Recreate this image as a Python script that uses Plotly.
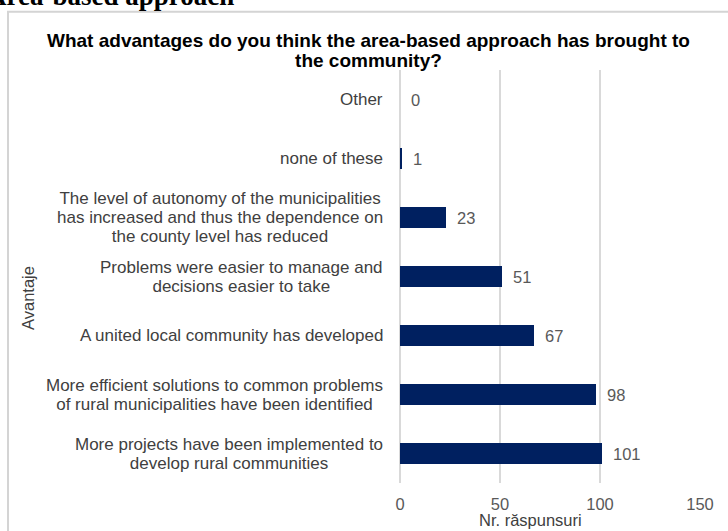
import plotly.graph_objects as go

# ---- data (top to bottom as shown) ----
categories = [
    "Other",
    "none of these",
    "The level of autonomy of the municipalities<br>has increased and thus the dependence on<br>the county level has reduced",
    "Problems were easier to manage and<br>decisions easier to take",
    "A united local community has developed",
    "More efficient solutions to common problems<br>of rural municipalities have been identified",
    "More projects have been implemented to<br>develop rural communities",
]
values = [0, 1, 23, 51, 67, 98, 101]
x_ticks = [0, 50, 100, 150]
title_text = "What advantages do you think the area-based approach has brought to<br>the community?"
header_text = "Area-based approach"
x_title = "Nr. răspunsuri"
y_title = "Avantaje"

# ---- layout geometry (pixels) ----
W, H = 728, 531
PL, PR = 400, 700          # plot area left/right px
PT, PB = 69.5, 483.5       # plot area top/bottom px


def px_x(px):
    return (px - PL) / (PR - PL)


def px_y(py):
    return (PB - py) / (PB - PT)


FONT = "Liberation Sans, Arial, sans-serif"

fig = go.Figure()
fig.add_trace(go.Bar(
    x=values,
    y=categories,
    orientation="h",
    width=0.36,
    marker=dict(color="#002060", line=dict(width=0)),
    hoverinfo="x+y",
))

annotations = []
# category labels (centered lines, right-aligned block)
for cat in categories:
    annotations.append(dict(
        x=px_x(385), xref="paper", y=cat, yref="y",
        xanchor="right", yanchor="middle", align="center",
        text='<span style="font-size:17px">' + cat + "</span>",
        showarrow=False,
        font=dict(family=FONT, size=14.6, color="#404040"),
    ))
# value labels
for cat, v in zip(categories, values):
    annotations.append(dict(
        x=v, xref="x", y=cat, yref="y",
        xanchor="left", yanchor="middle", xshift=9,
        text=str(v), showarrow=False,
        font=dict(family=FONT, size=16.5, color="#595959"),
    ))
# title (two lines, tight spacing)
annotations.append(dict(
    x=px_x(368), xref="paper", y=px_y(50), yref="paper",
    xanchor="center", yanchor="middle", align="center",
    text='<span style="font-size:19px"><b>' + title_text + "</b></span>",
    showarrow=False, font=dict(family=FONT, size=15.2, color="#000000"),
))
# header text of the document (cut at top)
annotations.append(dict(
    x=px_x(236), xref="paper", y=px_y(-5), yref="paper",
    xanchor="right", yanchor="middle", text="<b>" + header_text + "</b>",
    showarrow=False,
    font=dict(family="Liberation Serif, Times New Roman, serif", size=27, color="#000000"),
))
# axis titles
annotations.append(dict(
    x=px_x(530), xref="paper", y=px_y(521), yref="paper",
    xanchor="center", yanchor="middle", text=x_title,
    showarrow=False, font=dict(family=FONT, size=16.5, color="#404040"),
))
annotations.append(dict(
    x=px_x(28), xref="paper", y=px_y(298), yref="paper",
    xanchor="center", yanchor="middle", text=y_title, textangle=-90,
    showarrow=False, font=dict(family=FONT, size=16.5, color="#404040"),
))

shapes = [dict(
    type="rect", xref="paper", yref="paper",
    x0=px_x(8), x1=px_x(760), y0=px_y(560), y1=px_y(11),
    line=dict(color="#D4D4D4", width=2), fillcolor="rgba(0,0,0,0)", layer="below",
)]

fig.update_layout(
    width=W, height=H,
    margin=dict(l=PL, r=W - PR, t=PT, b=H - PB, pad=0),
    paper_bgcolor="white", plot_bgcolor="white",
    showlegend=False,
    bargap=0.64,
    annotations=annotations,
    shapes=shapes,
    font=dict(family=FONT),
)
fig.update_xaxes(
    range=[0, 150], tickvals=x_ticks, ticktext=[str(t) for t in x_ticks],
    showgrid=True, gridcolor="#D9D9D9", gridwidth=2,
    zeroline=True, zerolinecolor="#D9D9D9", zerolinewidth=2,
    showline=False, ticks="", ticklabelstandoff=9,
    tickfont=dict(family=FONT, size=16.5, color="#595959"),
    fixedrange=True,
)
fig.update_yaxes(
    categoryorder="array", categoryarray=categories,
    autorange="reversed", showticklabels=False, showgrid=False,
    zeroline=False, showline=False, ticks="", fixedrange=True,
)

fig.write_html("out.html")
